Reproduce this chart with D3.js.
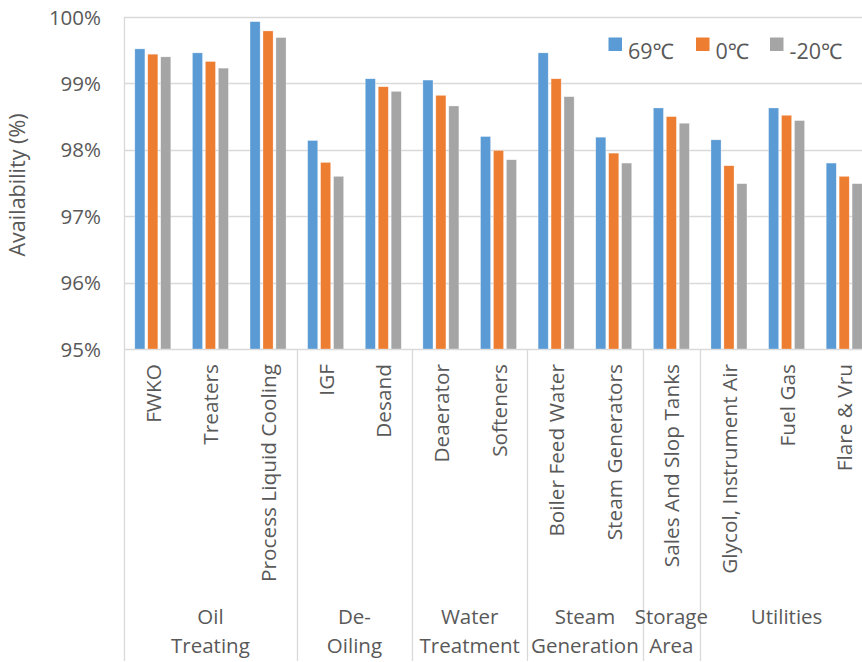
<!DOCTYPE html>
<html>
<head>
<meta charset="utf-8">
<script src="https://cdn.jsdelivr.net/npm/d3@7"></script>
<style>
  html, body { margin: 0; padding: 0; background: #fff; }
  svg { display: block; }
  text { font-family: "Open Sans", "Noto Sans", "DejaVu Sans", sans-serif; fill: #595959; }
</style>
</head>
<body>
<svg id="chart" width="862" height="662"></svg>
<script>
// Equipment units along the category axis
const categories = [
  "FWKO", "Treaters", "Process Liquid Cooling",
  "IGF", "Desand",
  "Deaerator", "Softeners",
  "Boiler Feed Water", "Steam Generators",
  "Sales And Slop Tanks",
  "Glycol, Instrument Air", "Fuel Gas", "Flare & Vru"
];

// Process areas (each line of a wrapped label) and how many units each holds
const groupLabels = [["Oil", "Treating"], ["De-", "Oiling"], ["Water", "Treatment"],
                     ["Steam", "Generation"], ["Storage", "Area"], ["Utilities"]];
const groupSizes = [3, 2, 2, 2, 1, 3];

// Ambient temperature series
const seriesNames = ["69℃", "0℃", "-20℃"];
const seriesColors = ["#5B9BD5", "#ED7D31", "#A5A5A5"];

// Availability (%) per unit for each temperature
const avail69 = [99.52, 99.46, 99.93, 98.14, 99.07, 99.05, 98.20, 99.46, 98.19, 98.63, 98.15, 98.63, 97.80];
const avail0  = [99.44, 99.33, 99.79, 97.81, 98.95, 98.82, 97.99, 99.07, 97.95, 98.50, 97.76, 98.52, 97.60];
const availM20 = [99.40, 99.23, 99.69, 97.60, 98.88, 98.66, 97.85, 98.80, 97.80, 98.40, 97.49, 98.44, 97.49];

// Value axis ticks
const yTicks = [95, 96, 97, 98, 99, 100];

const seriesValues = [avail69, avail0, availM20];

const svg = d3.select("#chart");
const plot = { left: 124, right: 873, top: 17, bottom: 349 };
const gridColor = "#d9d9d9";

const x = d3.scaleBand().domain(categories).range([plot.left, plot.right]).padding(0);
const clusterWidth = 36;
const xs = d3.scaleBand().domain(seriesNames)
  .range([(x.bandwidth() - clusterWidth) / 2, (x.bandwidth() + clusterWidth) / 2])
  .paddingInner(0.22).paddingOuter(0);
const y = d3.scaleLinear().domain([95, 100]).range([plot.bottom, plot.top]);

// Horizontal gridlines
svg.append("g")
  .selectAll("line")
  .data(yTicks)
  .join("line")
  .attr("x1", plot.left).attr("x2", plot.right)
  .attr("y1", d => Math.round(y(d)) + 0.5).attr("y2", d => Math.round(y(d)) + 0.5)
  .attr("stroke", gridColor).attr("stroke-width", 1.3);

// Value axis labels
const yAxis = d3.axisLeft(y).tickValues(yTicks).tickFormat(d => d + "%").tickSize(0).tickPadding(0);
const yg = svg.append("g").attr("transform", `translate(101,0)`).call(yAxis);
yg.select(".domain").remove();
yg.selectAll("text")
  .attr("font-size", 20.5)
  .attr("font-family", "'Open Sans', sans-serif")
  .attr("fill", "#595959")
  .attr("dy", "0.35em");

// Axis title
svg.append("text")
  .attr("transform", `translate(25,${(plot.top + plot.bottom) / 2 + 2}) rotate(-90)`)
  .attr("text-anchor", "middle")
  .attr("font-size", 21.5)
  .text("Availability (%)");

// Bars
const rows = categories.map((c, i) => ({ cat: c, vals: seriesNames.map((s, k) => ({ s, k, v: seriesValues[k][i] })) }));
svg.append("g")
  .selectAll("g")
  .data(rows)
  .join("g")
  .attr("transform", d => `translate(${x(d.cat)},0)`)
  .selectAll("rect")
  .data(d => d.vals)
  .join("rect")
  .attr("x", d => xs(d.s))
  .attr("width", xs.bandwidth())
  .attr("y", d => y(d.v))
  .attr("height", d => y(95) - y(d.v))
  .attr("fill", d => seriesColors[d.k])
  .attr("stroke", "#ffffff")
  .attr("stroke-opacity", 0.5)
  .attr("stroke-width", 0.6);

// Left border of the plot, running down through the category axis
svg.append("line")
  .attr("x1", plot.left + 0.5).attr("x2", plot.left + 0.5)
  .attr("y1", plot.top).attr("y2", 661)
  .attr("stroke", gridColor).attr("stroke-width", 1.3);

// Category labels (rotated)
svg.append("g")
  .selectAll("text")
  .data(categories)
  .join("text")
  .attr("transform", d => `translate(${x(d) + x.bandwidth() / 2 + 0.5},364) rotate(-90)`)
  .attr("text-anchor", "end")
  .attr("dy", "0.36em")
  .attr("font-size", 20.8)
  .text(d => d);

// Group separators and group labels
const starts = [];
let acc = 0;
groupSizes.forEach(n => { starts.push(acc); acc += n; });
const groups = groupLabels.map((lines, i) => {
  const first = categories[starts[i]];
  const last = categories[starts[i] + groupSizes[i] - 1];
  return { lines, x0: x(first), x1: x(last) + x.bandwidth() };
});

svg.append("g")
  .selectAll("line")
  .data(groups.slice(1))
  .join("line")
  .attr("x1", d => Math.round(d.x0) + 0.5).attr("x2", d => Math.round(d.x0) + 0.5)
  .attr("y1", plot.bottom).attr("y2", 661)
  .attr("stroke", gridColor).attr("stroke-width", 1.3);

const gl = svg.append("g")
  .selectAll("text")
  .data(groups)
  .join("text")
  .attr("x", d => (d.x0 + Math.min(d.x1, 862)) / 2)
  .attr("y", 624)
  .attr("text-anchor", "middle")
  .attr("font-size", 20.5);
gl.selectAll("tspan")
  .data(d => d.lines.map((t, j) => ({ t, j, cx: (d.x0 + d.x1) / 2 })))
  .join("tspan")
  .attr("x", d => d.cx)
  .attr("y", d => 624 + d.j * 29)
  .text(d => d.t);

// Legend
const legendX = [608.5, 696, 770];
const lg = svg.append("g")
  .selectAll("g")
  .data(seriesNames)
  .join("g")
  .attr("transform", (d, i) => `translate(${legendX[i]},37.5)`);
lg.append("rect")
  .attr("width", 13.5).attr("height", 13.5)
  .attr("fill", (d, i) => seriesColors[i]);
lg.append("text")
  .attr("x", 19.5).attr("y", 21)
  .attr("font-size", 21.5)
  .text(d => d);
</script>
</body>
</html>
